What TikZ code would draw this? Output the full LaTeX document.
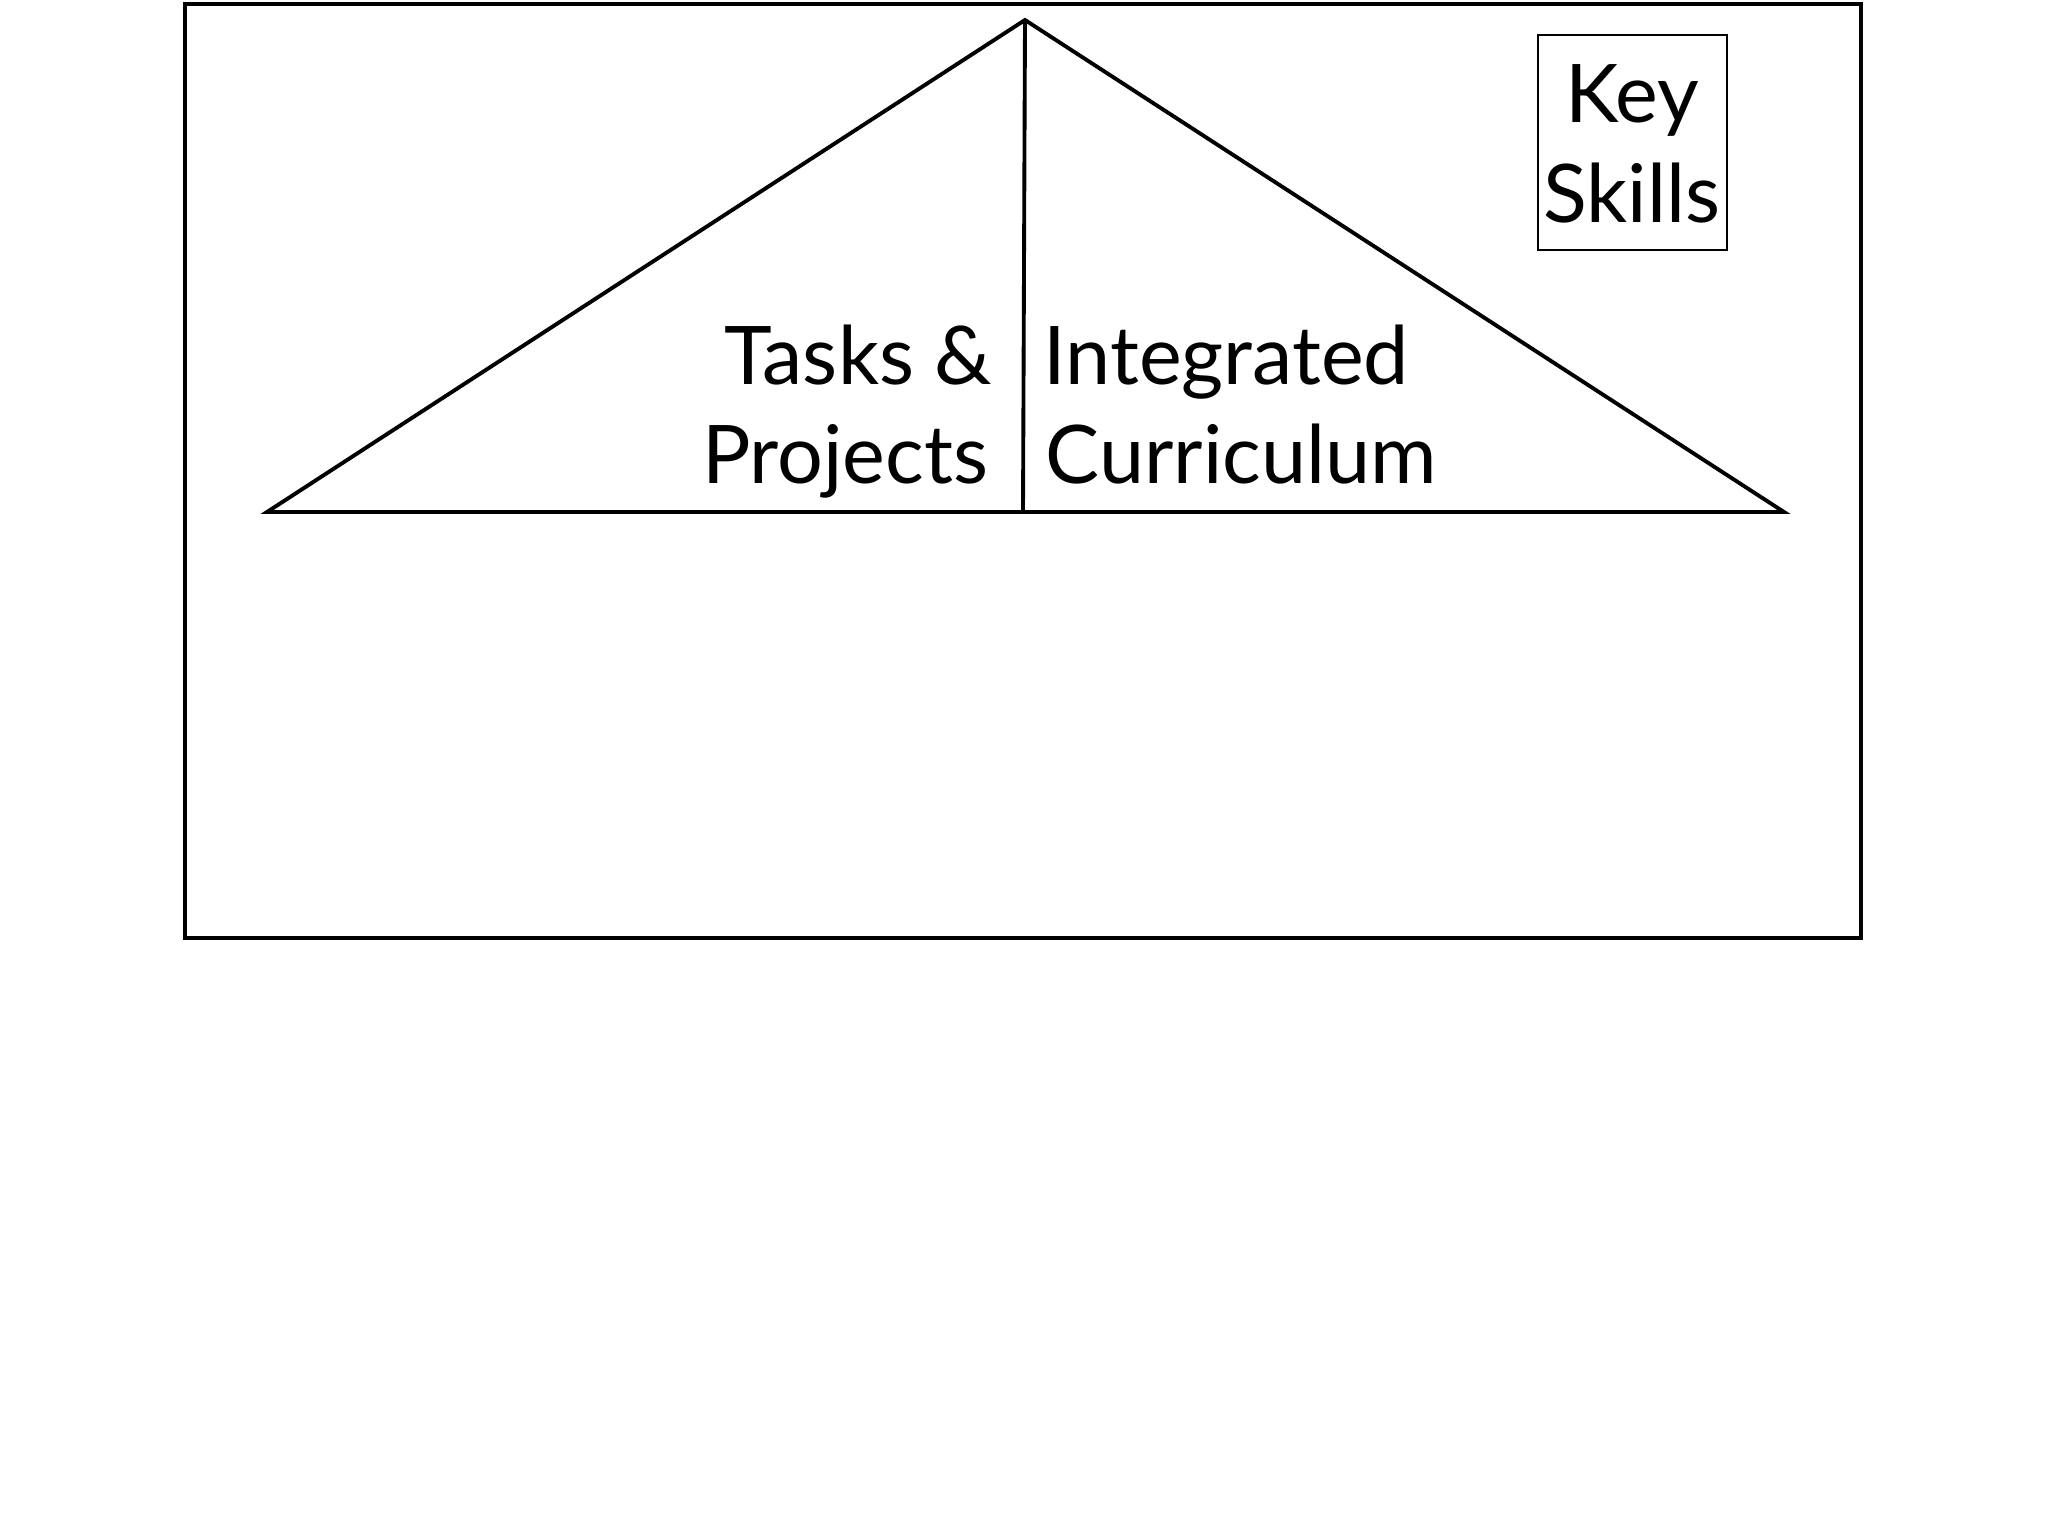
\documentclass[tikz,border=0pt]{standalone}
\usepackage{fontspec}
\setmainfont{Lato}
\begin{document}
\begin{tikzpicture}[x=0.01cm,y=-0.01cm,
  frame/.style={draw=black,line width=1.1pt},
  roof/.style={draw=black,line width=1.1pt,line join=miter},
  keybox/.style={draw=black,line width=0.55pt},
  lbl/.style={inner sep=0pt,font=\fontsize{23}{28}\selectfont}]
\useasboundingbox (0,0) rectangle (2048,1536);
\draw[frame] (185,4) rectangle (1861,938);
\coordinate (apex) at (1025,20);
\coordinate (bl) at (267,512);
\coordinate (br) at (1784,512);
\coordinate (mid) at (1023,512);
\draw[roof] (bl) -- (apex) -- (br) -- cycle;
\draw[roof] (apex) -- (mid);
\draw[keybox] (1538,35) rectangle (1727,250);
\node[lbl,anchor=base] (key) at (1632,122) {Key};
\node[lbl,anchor=base] (skills) at (1632,222) {Skills};
\node[lbl,anchor=base east] (tasks) at (993,384) {Tasks \&};
\node[lbl,anchor=base east] (proj) at (989,483) {Projects};
\node[lbl,anchor=base west] (integ) at (1043,384) {Integrated};
\node[lbl,anchor=base west] (curr) at (1045,483) {Curriculum};
\end{tikzpicture}
\end{document}
